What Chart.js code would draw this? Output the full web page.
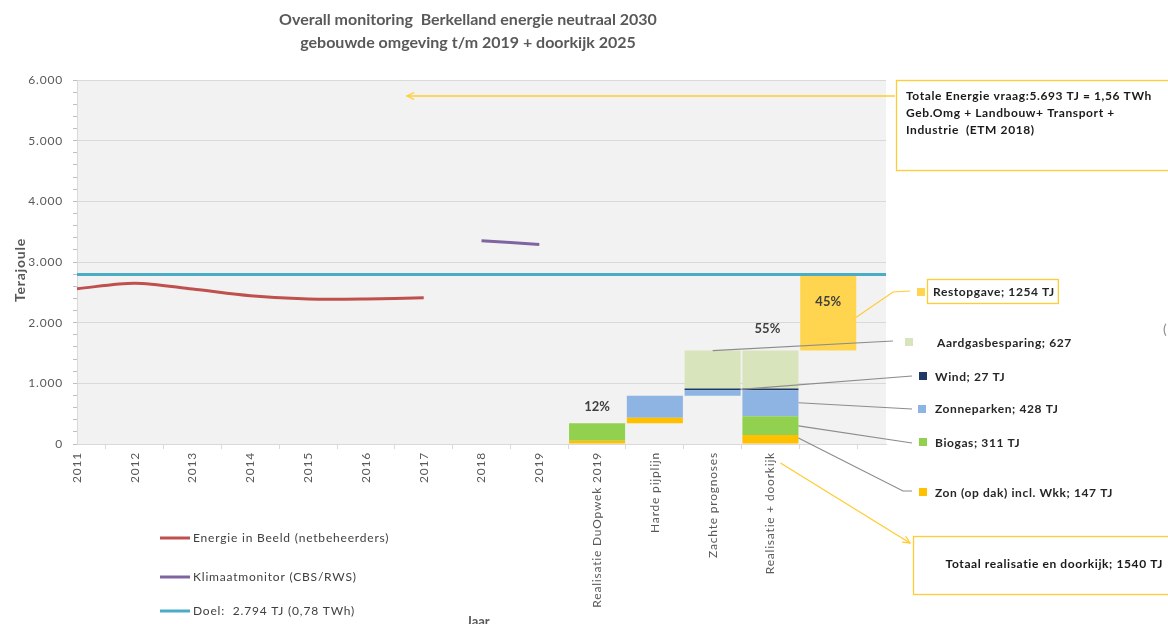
<!DOCTYPE html>
<html><head><meta charset="utf-8">
<script src="https://cdn.jsdelivr.net/npm/chart.js@4/dist/chart.umd.min.js"></script>
<style>html,body{margin:0;padding:0;background:#fff}#wrap{width:1168px;height:624px}</style>
</head><body><div id="wrap"><canvas id="c" width="1168" height="624"></canvas></div>
<script>
// ---- data ----
const categories = ['2011','2012','2013','2014','2015','2016','2017','2018','2019','Realisatie DuOpwek 2019','Harde pijplijn','Zachte prognoses','Realisatie + doorkijk','',''];
const energieInBeeld = [2560,2650,2555,2445,2390,2390,2410,null,null,null,null,null,null,null,null];
const klimaatmonitor = [null,null,null,null,null,null,null,3350,3290,null,null,null,null,null,null];
const doel = [2794,2794,2794,2794,2794,2794,2794,2794,2794,2794,2794,2794,2794,2794,2794];
const basis = [null,null,null,null,null,null,null,null,null,0,340,796,0,1540,null];
const zon = [null,null,null,null,null,null,null,null,null,55,92,null,147,null,null];
const biogas = [null,null,null,null,null,null,null,null,null,285,null,null,311,null,null];
const zonneparken = [null,null,null,null,null,null,null,null,null,null,364,90,428,null,null];
const wind = [null,null,null,null,null,null,null,null,null,null,null,27,27,null,null];
const aardgas = [null,null,null,null,null,null,null,null,null,null,null,627,627,null,null];
const restopgave = [null,null,null,null,null,null,null,null,null,null,null,null,null,1254,null];
const yTicksMajor = 1000;
const titleLines = ['Overall monitoring  Berkelland energie neutraal 2030','gebouwde omgeving t/m 2019 + doorkijk 2025'];
const percentLabels = [{i:9, v:610, t:'12%'},{i:12, v:1900, t:'55%', dx:-3},{i:13, v:2340, t:'45%'}];

const F = 'Lato, "Open Sans", sans-serif';
const GREY = '#595959';

function fmt(v){ return v.toLocaleString('nl-NL'); }

function arrow(ctx, x1,y1,x2,y2,color){
  ctx.save(); ctx.strokeStyle=color; ctx.lineWidth=1.3;
  ctx.beginPath(); ctx.moveTo(x1,y1); ctx.lineTo(x2,y2); ctx.stroke();
  const a=Math.atan2(y2-y1,x2-x1), L=8;
  ctx.beginPath();
  ctx.moveTo(x2-L*Math.cos(a-0.45), y2-L*Math.sin(a-0.45));
  ctx.lineTo(x2,y2);
  ctx.lineTo(x2-L*Math.cos(a+0.45), y2-L*Math.sin(a+0.45));
  ctx.stroke(); ctx.restore();
}
function line(ctx, pts, color, w){
  ctx.save(); ctx.strokeStyle=color; ctx.lineWidth=w||1;
  ctx.beginPath(); ctx.moveTo(pts[0][0],pts[0][1]);
  for(let k=1;k<pts.length;k++) ctx.lineTo(pts[k][0],pts[k][1]);
  ctx.stroke(); ctx.restore();
}

const plotBg = {
  id:'plotBg',
  beforeDraw(chart){
    const {ctx, chartArea:a} = chart;
    ctx.save(); ctx.fillStyle='#f2f2f2';
    ctx.fillRect(a.left, a.top, a.right-a.left, a.bottom-a.top);
    ctx.restore();
    ctx.letterSpacing = '0.8px';
  },
  beforeDatasetsDraw(chart){ chart.ctx.letterSpacing = '0px'; }
};

const extras = {
  id:'extras',
  afterDraw(chart){
    const {ctx} = chart;
    const xs = chart.scales.x, ys = chart.scales.y;
    ctx.save();
    ctx.letterSpacing='0px';
    // title
    ctx.fillStyle=GREY; ctx.font='bold 16px '+F; ctx.textAlign='center'; ctx.textBaseline='middle';
    ctx.fillText(titleLines[0], 468, 20);
    ctx.fillText(titleLines[1], 468, 43);
    // y title
    ctx.save(); ctx.translate(20, 270); ctx.rotate(-Math.PI/2);
    ctx.letterSpacing='0.8px';
    ctx.font='bold 14px '+F; ctx.fillStyle=GREY; ctx.fillText('Terajoule',0,0); ctx.restore();
    // x title (cut off)
    ctx.font='bold 13px '+F; ctx.fillStyle=GREY; ctx.fillText('Jaar', 478, 622);
    // percent labels
    ctx.font='bold 13px '+F; ctx.fillStyle='#404040';
    percentLabels.forEach(p=>{
      ctx.fillText(p.t, xs.getPixelForValue(p.i)+(p.dx||0), ys.getPixelForValue(p.v));
    });
    // legend
    const legendItems = [[0,538],[1,577],[2,611]];
    ctx.textAlign='left'; ctx.font='12px '+F; ctx.letterSpacing='0.8px';
    legendItems.forEach(([di,y])=>{
      const ds = chart.data.datasets[di];
      line(ctx, [[160,y],[190,y]], ds.borderColor, 3);
      ctx.fillStyle='#404040'; ctx.fillText(ds.label, 193, y);
    });
    ctx.letterSpacing='0.6px';
    const half = (xs.getPixelForValue(1)-xs.getPixelForValue(0))*0.97/2;
    const YEL='#ffcc33';
    // total demand box + arrow
    ctx.save(); ctx.strokeStyle=YEL; ctx.lineWidth=1.3; ctx.strokeRect(896.5,80.5,290,90); ctx.restore();
    arrow(ctx, 895, 96, 407, 96, YEL);
    ctx.fillStyle='#1a1a1a'; ctx.font='bold 12px '+F;
    ctx.fillText('Totale Energie vraag:5.693 TJ = 1,56 TWh', 906, 96);
    ctx.fillText('Geb.Omg + Landbouw+ Transport +', 906, 113);
    ctx.fillText('Industrie  (ETM 2018)', 906, 130);
    // series labels
    const labels = [
      {c:'#ffd550', sq:[917,288], tx:933, ty:292, t:'Restopgave; 1254 TJ', box:true,
        lead:[[xs.getPixelForValue(13)+half, ys.getPixelForValue(2090)],[893,292],[910,291]], lc:YEL},
      {c:'#d8e4bc', sq:[905,338], tx:937, ty:343, t:'Aardgasbesparing; 627',
        lead:[[xs.getPixelForValue(11), ys.getPixelForValue(1540)],[893,341]], lc:'#8c8c8c'},
      {c:'#1f3864', sq:[919,372], tx:935, ty:377, t:'Wind; 27 TJ',
        lead:[[xs.getPixelForValue(11)+half, ys.getPixelForValue(900)],[912,376]], lc:'#8c8c8c'},
      {c:'#8db4e2', sq:[918,405], tx:935, ty:409, t:'Zonneparken; 428 TJ',
        lead:[[xs.getPixelForValue(12)+half, ys.getPixelForValue(680)],[912,409]], lc:'#8c8c8c'},
      {c:'#92d050', sq:[919,438], tx:935, ty:443, t:'Biogas; 311 TJ',
        lead:[[xs.getPixelForValue(12)+half, ys.getPixelForValue(300)],[912,443]], lc:'#8c8c8c'},
      {c:'#ffc000', sq:[919,488], tx:935, ty:493, t:'Zon (op dak) incl. Wkk; 147 TJ',
        lead:[[xs.getPixelForValue(12)+half, ys.getPixelForValue(100)],[903,491],[912,491]], lc:'#8c8c8c'}
    ];
    labels.forEach(l=>{
      line(ctx, l.lead, l.lc, 1.2);
      ctx.fillStyle=l.c; ctx.fillRect(l.sq[0], l.sq[1], 8, 8);
      ctx.fillStyle='#262626'; ctx.font='bold 12px '+F; ctx.textAlign='left';
      ctx.fillText(l.t, l.tx, l.ty);
      if(l.box){
        const w = ctx.measureText(l.t).width;
        ctx.save(); ctx.strokeStyle=YEL; ctx.lineWidth=1.3;
        ctx.strokeRect(l.tx-5.5, l.ty-12.5, w+9, 24); ctx.restore();
      }
    });
    // total realisation box + arrow
    arrow(ctx, xs.getPixelForValue(12)+10, 463, 910, 543, YEL);
    ctx.save(); ctx.strokeStyle=YEL; ctx.lineWidth=1.3; ctx.strokeRect(913.5,536.5,270,58); ctx.restore();
    ctx.fillStyle='#1a1a1a'; ctx.font='bold 12px '+F; ctx.textAlign='right';
    ctx.fillText('Totaal realisatie en doorkijk; 1540 TJ', 1163, 564);
    ctx.fillStyle='#8c8c8c'; ctx.font='14px '+F; ctx.textAlign='left'; ctx.fillText('(', 1163, 329);
    ctx.restore();
  }
};

const barOpts = {type:'bar', stack:'bars', order:1, categoryPercentage:1, barPercentage:0.97, borderWidth:0};
const lineOpts = {type:'line', order:0, pointRadius:0, borderWidth:3, fill:false, tension:0.3, spanGaps:false};

new Chart(document.getElementById('c'), {
  data:{
    labels: categories,
    datasets:[
      {...lineOpts, label:'Energie in Beeld (netbeheerders)', data:energieInBeeld, borderColor:'#c0504d', stack:'l1'},
      {...lineOpts, label:'Klimaatmonitor (CBS/RWS)', data:klimaatmonitor, borderColor:'#8064a2', stack:'l2'},
      {...lineOpts, label:'Doel:  2.794 TJ (0,78 TWh)', data:doel, borderColor:'#4bacc6', stack:'l3', tension:0},
      {...barOpts, label:'basis', data:basis, backgroundColor:'rgba(0,0,0,0)'},
      {...barOpts, label:'Zon (op dak) incl. Wkk', data:zon, backgroundColor:'#ffc000'},
      {...barOpts, label:'Biogas', data:biogas, backgroundColor:'#92d050'},
      {...barOpts, label:'Zonneparken', data:zonneparken, backgroundColor:'#8db4e2'},
      {...barOpts, label:'Wind', data:wind, backgroundColor:'#1f3864'},
      {...barOpts, label:'Aardgasbesparing', data:aardgas, backgroundColor:'#d8e4bc'},
      {...barOpts, label:'Restopgave', data:restopgave, backgroundColor:'#ffd550'}
    ]
  },
  options:{
    responsive:false, animation:false,
    layout:{padding:{top:80, right:282, left:0, bottom:0}},
    plugins:{legend:{display:false}, tooltip:{enabled:false}, title:{display:false}},
    scales:{
      x:{
        type:'category', stacked:true, offset:false,
        afterFit(s){ s.height = 180; },
        grid:{drawOnChartArea:false, tickLength:5, color:'#d9d9d9', tickColor:'#d9d9d9'},
        border:{color:'#d9d9d9'},
        ticks:{autoSkip:false, minRotation:90, maxRotation:90, padding:3, color:GREY, font:{family:F, size:12}}
      },
      y:{
        stacked:true, min:0, max:6000,
        afterFit(s){ s.width = 77; },
        grid:{tickLength:4, color:(c)=> (c.tick && c.tick.value % yTicksMajor === 0) ? '#d9d9d9' : 'rgba(0,0,0,0)', tickColor:'#bfbfbf'},
        border:{color:'#d9d9d9'},
        ticks:{stepSize:200, autoSkip:false, padding:10, color:GREY, font:{family:F, size:12},
          callback:(v)=> v % yTicksMajor === 0 ? fmt(v) : ''}
      }
    }
  },
  plugins:[plotBg, extras]
});
</script></body></html>
